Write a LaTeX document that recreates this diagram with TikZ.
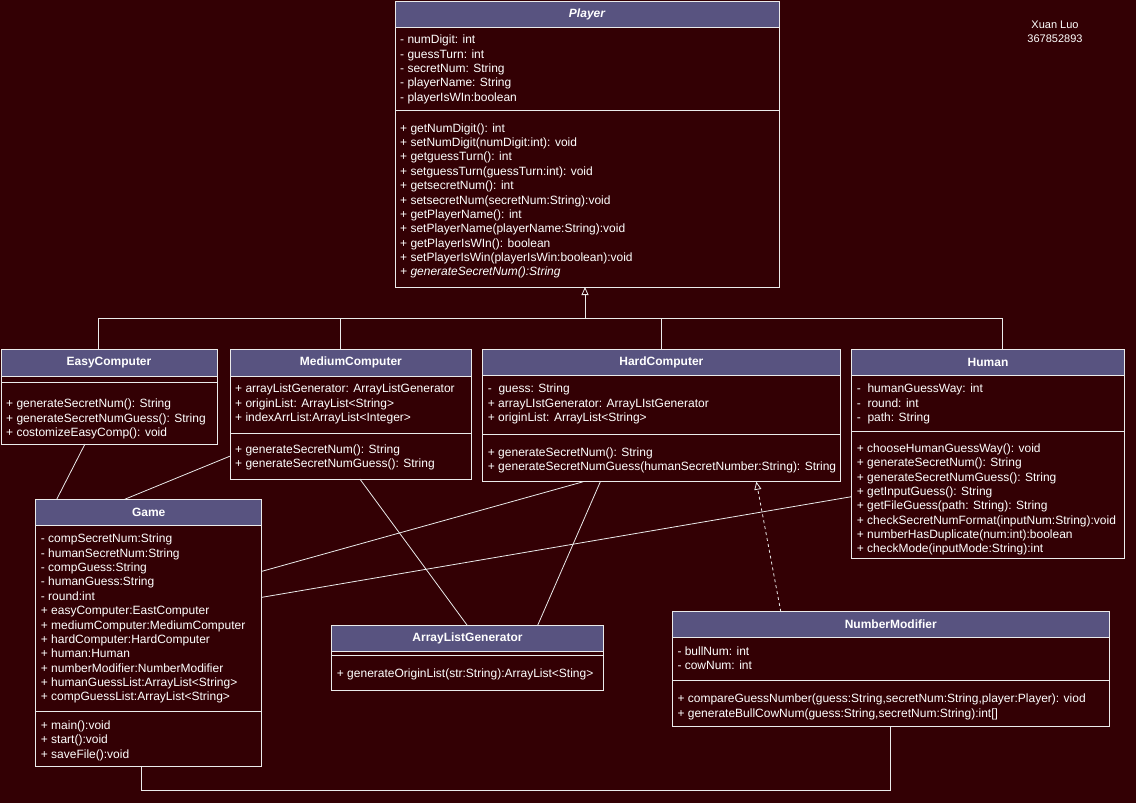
\documentclass[tikz,border=0pt]{standalone}
\usepackage{fontspec}
\setmainfont{Liberation Sans}
\usetikzlibrary{arrows.meta}

\definecolor{bgmaroon}{RGB}{51,0,4}
\definecolor{headpurple}{RGB}{88,83,128}
\definecolor{edge}{RGB}{235,235,235}

\tikzset{
  hdr/.style={draw=edge, fill=headpurple, text=white, font=\bfseries\fontsize{12}{14}\selectfont,
    anchor=north west, inner sep=0, outer sep=0, line width=1pt},
  sect/.style={draw=edge, anchor=north west, inner sep=0, outer sep=0, line width=1pt},
  txt/.style={anchor=north west, align=left, inner sep=0, text=white, font=\fontsize{12}{14.35}\selectfont},
  conn/.style={draw=edge, line width=0.8pt},
  hollow/.style={-{Triangle[open, length=8, width=7]}},
}

\begin{document}
\begin{tikzpicture}[x=1pt, y=-1pt]
\fill[bgmaroon] (0,0) rectangle (1136,803);
\useasboundingbox (0,0) rectangle (1136,803);

% Player
\node[hdr, font=\bfseries\itshape\fontsize{12}{14}\selectfont, minimum width=384, minimum height=26] (player) at (395,1) {Player};
\node[sect, minimum width=384, minimum height=83] (player-a) at (player.south west) {};
\node[sect, minimum width=384, minimum height=177] (player-m) at (player-a.south west) {};
\node[txt] (player-at) at ([shift={(5,8)}]player-a.north west) {- numDigit: int\\- guessTurn: int\\- secretNum: String\\- playerName: String\\- playerIsWIn:boolean};
\node[txt] (player-mt) at ([shift={(5,13.4)}]player-m.north west) {+ getNumDigit(): int\\+ setNumDigit(numDigit:int): void\\+ getguessTurn(): int\\+ setguessTurn(guessTurn:int): void\\+ getsecretNum(): int\\+ setsecretNum(secretNum:String):void\\+ getPlayerName(): int\\+ setPlayerName(playerName:String):void\\+ getPlayerIsWIn(): boolean\\+ setPlayerIsWin(playerIsWin:boolean):void\\\textit{+ generateSecretNum():String}};

% EasyComputer
\node[hdr, minimum width=216, minimum height=27.7] (easy) at (1,349) {EasyComputer};
\node[sect, minimum width=216, minimum height=6] (easy-a) at (easy.south west) {};
\node[sect, minimum width=216, minimum height=61.3] (easy-m) at (easy-a.south west) {};
\node[txt] (easy-mt) at ([shift={(5,16.3)}]easy-m.north west) {+ generateSecretNum(): String\\+ generateSecretNumGuess(): String\\+ costomizeEasyComp(): void};

% MediumComputer
\node[hdr, minimum width=241.7, minimum height=27.7] (medium) at (230,349) {MediumComputer};
\node[sect, minimum width=241.7, minimum height=56.6] (medium-a) at (medium.south west) {};
\node[sect, minimum width=241.7, minimum height=45.7] (medium-m) at (medium-a.south west) {};
\node[txt] (medium-at) at ([shift={(5,7.3)}]medium-a.north west) {+ arrayListGenerator: ArrayListGenerator\\+ originList: ArrayList<String>\\+ indexArrList:ArrayList<Integer>};
\node[txt] (medium-mt) at ([shift={(5,11.4)}]medium-m.north west) {+ generateSecretNum(): String\\+ generateSecretNumGuess(): String};

% HardComputer
\node[hdr, minimum width=357.3, minimum height=26.7] (hard) at (482.7,349) {HardComputer};
\node[sect, minimum width=357.3, minimum height=58.6] (hard-a) at (hard.south west) {};
\node[sect, minimum width=357.3, minimum height=47.4] (hard-m) at (hard-a.south west) {};
\node[txt] (hard-at) at ([shift={(5,8.3)}]hard-a.north west) {-\ \ guess: String\\+ arrayLIstGenerator: ArrayLIstGenerator\\+ originList: ArrayList<String>};
\node[txt] (hard-mt) at ([shift={(5,13.1)}]hard-m.north west) {+ generateSecretNum(): String\\+ generateSecretNumGuess(humanSecretNumber:String): String};

% Human
\node[hdr, minimum width=272.6, minimum height=26] (human) at (851.7,349) {Human};
\node[sect, minimum width=272.6, minimum height=56] (human-a) at (human.south west) {};
\node[sect, minimum width=272.6, minimum height=127.3] (human-m) at (human-a.south west) {};
\node[txt] (human-at) at ([shift={(5,9)}]human-a.north west) {-\ \ humanGuessWay: int\\-\ \ round: int\\-\ \ path: String};
\node[txt] (human-mt) at ([shift={(5,12.4)}]human-m.north west) {+ chooseHumanGuessWay(): void\\+ generateSecretNum(): String\\+ generateSecretNumGuess(): String\\+ getInputGuess(): String\\+ getFileGuess(path: String): String\\+ checkSecretNumFormat(inputNum:String):void\\+ numberHasDuplicate(num:int):boolean\\+ checkMode(inputMode:String):int};

% Game
\node[hdr, minimum width=226, minimum height=25.7] (game) at (35.7,499.3) {Game};
\node[sect, minimum width=226, minimum height=186.7] (game-a) at (game.south west) {};
\node[sect, minimum width=226, minimum height=55] (game-m) at (game-a.south west) {};
\node[txt] (game-at) at ([shift={(5,9)}]game-a.north west) {- compSecretNum:String\\- humanSecretNum:String\\- compGuess:String\\- humanGuess:String\\- round:int\\+ easyComputer:EastComputer\\+ mediumComputer:MediumComputer\\+ hardComputer:HardComputer\\+ human:Human\\+ numberModifier:NumberModifier\\+ humanGuessList:ArrayList<String>\\+ compGuessList:ArrayList<String>};
\node[txt] (game-mt) at ([shift={(5,9)}]game-m.north west) {+ main():void\\+ start():void\\+ saveFile():void};

% ArrayListGenerator
\node[hdr, minimum width=271.6, minimum height=26] (alg) at (331.7,625.7) {ArrayListGenerator};
\node[sect, minimum width=271.6, minimum height=4] (alg-a) at (alg.south west) {};
\node[sect, minimum width=271.6, minimum height=35] (alg-m) at (alg-a.south west) {};
\node[txt] (alg-mt) at ([shift={(5,13.3)}]alg-m.north west) {+ generateOriginList(str:String):ArrayList<Sting>};

% NumberModifier
\node[hdr, minimum width=437, minimum height=25.6] (nm) at (672.3,611.7) {NumberModifier};
\node[sect, minimum width=437, minimum height=43.4] (nm-a) at (nm.south west) {};
\node[sect, minimum width=437, minimum height=45.3] (nm-m) at (nm-a.south west) {};
\node[txt] (nm-at) at ([shift={(5,9.4)}]nm-a.north west) {- bullNum: int\\- cowNum: int};
\node[txt] (nm-mt) at ([shift={(5,13.3)}]nm-m.north west) {+ compareGuessNumber(guess:String,secretNum:String,player:Player): viod\\+ generateBullCowNum(guess:String,secretNum:String):int[]};

\node[text=white, align=center, font=\fontsize{11}{14.3}\selectfont] (author) at (1055,31.5) {Xuan Luo\\367852893};

% inheritance tree
\coordinate (gen) at (585,318);
\coordinate (easy-up) at ([xshift=-11]easy.north);
\coordinate (medium-up) at ([xshift=-10]medium.north);
\coordinate (hard-up) at (hard.north);
\coordinate (human-up) at ([xshift=14]human.north);
\draw[conn, hollow] (gen) -- (gen |- player-m.south);
\draw[conn] (easy-up) -- (easy-up |- gen) -- (human-up |- gen) -- (human-up);
\draw[conn] (medium-up) -- (medium-up |- gen);
\draw[conn] (hard-up) -- (hard-up |- gen);

% associations
\draw[conn] ([xshift=-24]easy-m.south) -- ([xshift=-92]game.north);
\draw[conn] (medium-m.west) -- ([xshift=-24]game.north);
\draw[conn] ([xshift=9]medium-m.south) -- (alg.north);
\draw[conn] ([xshift=-61]hard-m.south) -- ([xshift=70]alg.north);
\draw[conn] ([xshift=-78]hard-m.south) -- ([yshift=47]game-a.east);
\draw[conn] ([yshift=-2]human-m.west) -- ([yshift=21]game-a.east);
\draw[conn, hollow, dash pattern=on 3pt off 3pt] ([xshift=-110]nm.north) -- ([xshift=95]hard-m.south);
\draw[conn] ([xshift=-7]game-m.south) -- ++(0,23.3) -| (nm-m.south);
\end{tikzpicture}
\end{document}
